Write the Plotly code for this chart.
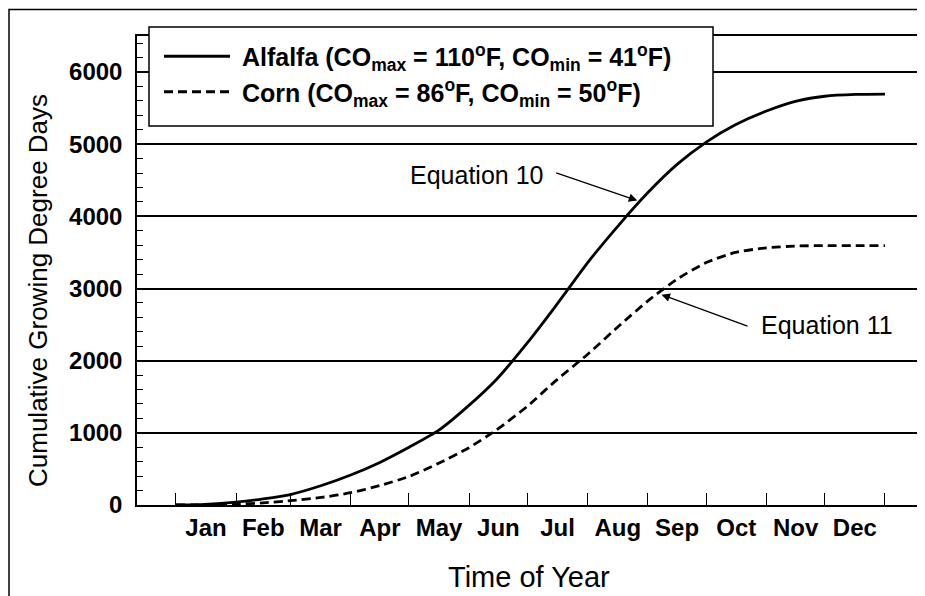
import plotly.graph_objects as go

# ---- data (day of year, cumulative GDD) ----
days = [0, 15, 31, 45, 59, 75, 90, 105, 120, 135, 150, 165, 181, 195, 212,
        228, 243, 258, 273, 288, 304, 320, 334, 350, 365]
alfalfa = [0, 10, 40, 85, 145, 270, 415, 590, 800, 1030, 1360, 1740, 2250, 2740, 3360,
           3880, 4330, 4720, 5030, 5270, 5460, 5600, 5665, 5690, 5695]
corn = [0, 2, 12, 30, 60, 105, 170, 270, 395, 575, 780, 1040, 1370, 1710, 2090,
        2480, 2830, 3130, 3360, 3500, 3565, 3590, 3595, 3595, 3595]

month_names = ["Jan", "Feb", "Mar", "Apr", "May", "Jun", "Jul", "Aug", "Sep", "Oct", "Nov", "Dec"]
month_bounds = [0, 31, 59, 90, 120, 151, 181, 212, 243, 273, 304, 334, 365]
month_centers = [(a + b) / 2 for a, b in zip(month_bounds[:-1], month_bounds[1:])]

alfalfa_name = "\u00a0Alfalfa (CO<sub>max</sub> = 110<sup>o</sup>F, CO<sub>min</sub> = 41<sup>o</sup>F)"
corn_name = "\u00a0Corn (CO<sub>max</sub> = 86<sup>o</sup>F, CO<sub>min</sub> = 50<sup>o</sup>F)"

FONT = "Liberation Sans, Arial, sans-serif"

fig = go.Figure()
fig.add_trace(go.Scatter(x=days, y=alfalfa, mode="lines", name=alfalfa_name,
                         legendgroup="a",
                         line=dict(color="black", width=2.8, shape="spline", smoothing=0.6)))
fig.add_trace(go.Scatter(x=days, y=corn, mode="lines", name=corn_name,
                         legendgroup="c",
                         line=dict(color="black", width=2.8, dash="9px,5px", shape="spline", smoothing=0.6)))

# page has an 8px body margin; figure occupies page px 8..925 x 8..596
OFF = 8
W, H = 925 - OFF, 596 - OFF
L, R, T, B = 137 - OFF, 7, 36 - OFF, 91
pw, ph = W - L - R, H - T - B


def px_x(p):  # page pixel -> paper x
    return (p - OFF - L) / pw


def px_y(p):  # page pixel -> paper y
    return (T + ph - (p - OFF)) / ph


fig.update_layout(
    width=W, height=H,
    margin=dict(l=L, r=R, t=T, b=B, autoexpand=False),
    paper_bgcolor="white", plot_bgcolor="white",
    font=dict(family=FONT, color="black"),
    showlegend=True,
    legend=dict(
        x=px_x(159), y=px_y(33.5), xanchor="left", yanchor="top",
        bgcolor="rgba(0,0,0,0)", borderwidth=0,
        font=dict(size=25, family=FONT, color="black", weight="bold"),
        itemwidth=66, tracegroupgap=0,
    ),
    xaxis=dict(
        range=[-20, 382],
        tickmode="array", tickvals=month_centers, ticktext=month_names,
        ticks="", showgrid=False, zeroline=False,
        tickfont=dict(size=24, family=FONT, weight="bold"),
        showline=True, linecolor="black", linewidth=1.5, mirror=True,
        minor=dict(tickmode="array", tickvals=month_bounds, ticks="inside",
                   ticklen=12, tickwidth=1.2, tickcolor="black", showgrid=False),
    ),
    yaxis=dict(
        range=[0, 6500], tickmode="linear", tick0=0, dtick=1000,
        ticks="inside", ticklen=6, tickwidth=1.2, tickcolor="black",
        showgrid=True, gridcolor="black", gridwidth=1.5, zeroline=False,
        tickfont=dict(size=24, family=FONT, weight="bold"),
        showline=True, linecolor="black", linewidth=1.5, mirror=True,
        ticklabelstandoff=8,
        minor=dict(dtick=200, ticks="inside", ticklen=6, tickwidth=1.2,
                   tickcolor="black", showgrid=False),
    ),
)

# legend frame (white box covering grid lines)
fig.add_shape(type="rect", xref="paper", yref="paper",
              x0=px_x(149), x1=px_x(713), y0=px_y(126), y1=px_y(27),
              line=dict(color="black", width=1.5), fillcolor="white", layer="above")

# axis titles as annotations for exact placement
fig.add_annotation(text="Time of Year", xref="paper", yref="paper",
                   x=px_x(529), y=px_y(577), xanchor="center", yanchor="middle",
                   showarrow=False, font=dict(size=29, family=FONT, color="black"))
fig.add_annotation(text="Cumulative Growing Degree Days", xref="paper", yref="paper",
                   x=px_x(38), y=px_y(291), xanchor="center", yanchor="middle",
                   showarrow=False, textangle=-90,
                   font=dict(size=26, family=FONT, color="black"))

# equation labels and arrows
fig.add_annotation(text="Equation 10", x=155, y=4580, xref="x", yref="y",
                   xanchor="center", yanchor="middle",
                   showarrow=False, font=dict(size=25, family=FONT, color="black"))
fig.add_annotation(text="", x=237.5, y=4220, ax=195, ay=4610, xref="x", yref="y",
                   axref="x", ayref="y", showarrow=True, arrowhead=2, arrowsize=1.3,
                   arrowwidth=1.3, arrowcolor="black")
fig.add_annotation(text="Equation 11", x=335, y=2500, xref="x", yref="y",
                   xanchor="center", yanchor="middle",
                   showarrow=False, font=dict(size=25, family=FONT, color="black"))
fig.add_annotation(text="", x=250, y=2915, ax=295, ay=2470, xref="x", yref="y",
                   axref="x", ayref="y", showarrow=True, arrowhead=2, arrowsize=1.3,
                   arrowwidth=1.3, arrowcolor="black")

# outer figure border (cropped at right/bottom in reference)
fig.add_shape(type="rect", xref="paper", yref="paper",
              x0=px_x(9), x1=px_x(940), y0=px_y(620), y1=px_y(9.5),
              line=dict(color="black", width=1.5), fillcolor="rgba(0,0,0,0)", layer="above")

fig.write_html("out.html")
